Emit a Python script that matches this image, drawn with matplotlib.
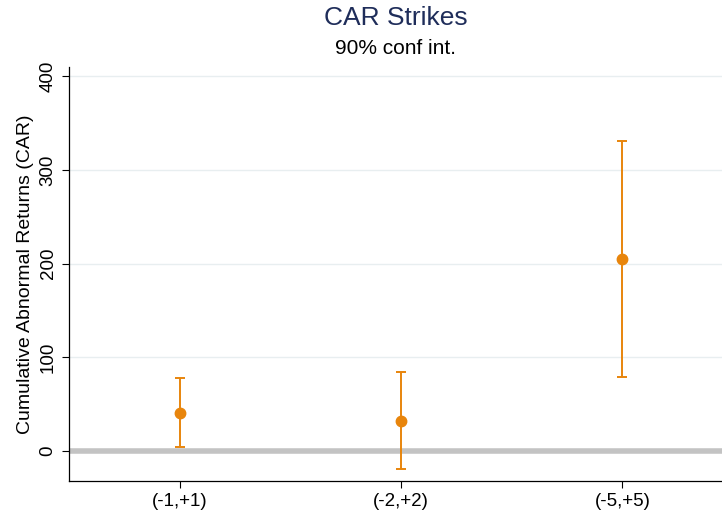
import matplotlib
matplotlib.use("Agg")
import matplotlib.pyplot as plt
import numpy as np

plt.rcParams['font.family'] = ['Liberation Sans', 'DejaVu Sans']

# Event windows and cumulative abnormal returns with 90% confidence bounds
windows = ["(-1,+1)", "(-2,+2)", "(-5,+5)"]
car = [41, 32.5, 205.5]
ci_low = [4.5, -19, 79]
ci_high = [77.5, 84.5, 331]

orange = "#E8850C"
navy = "#1F2D5A"

fig = plt.figure(figsize=(7.22, 5.16), dpi=100)
ax = fig.add_axes([69 / 722, 1 - 481 / 516, 1 - 69 / 722, (481 - 67) / 516])

x = np.arange(1, len(windows) + 1)
car_arr = np.array(car)
yerr = np.vstack([car_arr - np.array(ci_low), np.array(ci_high) - car_arr])

ax.axhline(0, color="#c3c3c3", lw=4, zorder=1)
ax.errorbar(x, car_arr, yerr=yerr, fmt="o", color=orange, ecolor=orange,
            elinewidth=1.4, capsize=3.3, capthick=1.4, markersize=7.5, zorder=3)

ax.set_xlim(0.5, 3.45)
ax.set_ylim(-32, 410)
ax.set_xticks(x)
ax.set_xticklabels(windows, fontsize=13.5)
ax.set_yticks([0, 100, 200, 300, 400])
ax.set_yticklabels(["0", "100", "200", "300", "400"], fontsize=13.5,
                   rotation=90, va="center")
ax.tick_params(axis="both", length=5, width=0.8, colors="black")
ax.tick_params(axis="y", pad=4)
ax.tick_params(axis="x", pad=4)

ax.grid(axis="y", color="#e8eef0", lw=1, zorder=0)
ax.set_axisbelow(True)
for s in ["top", "right"]:
    ax.spines[s].set_visible(False)
for s in ["left", "bottom"]:
    ax.spines[s].set_linewidth(0.9)

ax.set_ylabel("Cumulative Abnormal Returns (CAR)", fontsize=14, labelpad=4)

cx = (69 + 722) / 2 / 722
fig.text(cx, 1 - 18 / 516, "CAR Strikes", ha="center", va="center",
         fontsize=19, color=navy)
fig.text(cx, 1 - 49 / 516, "90% conf int.", ha="center", va="center",
         fontsize=15, color="black")

fig.savefig("out.png", dpi=100, facecolor="white")
